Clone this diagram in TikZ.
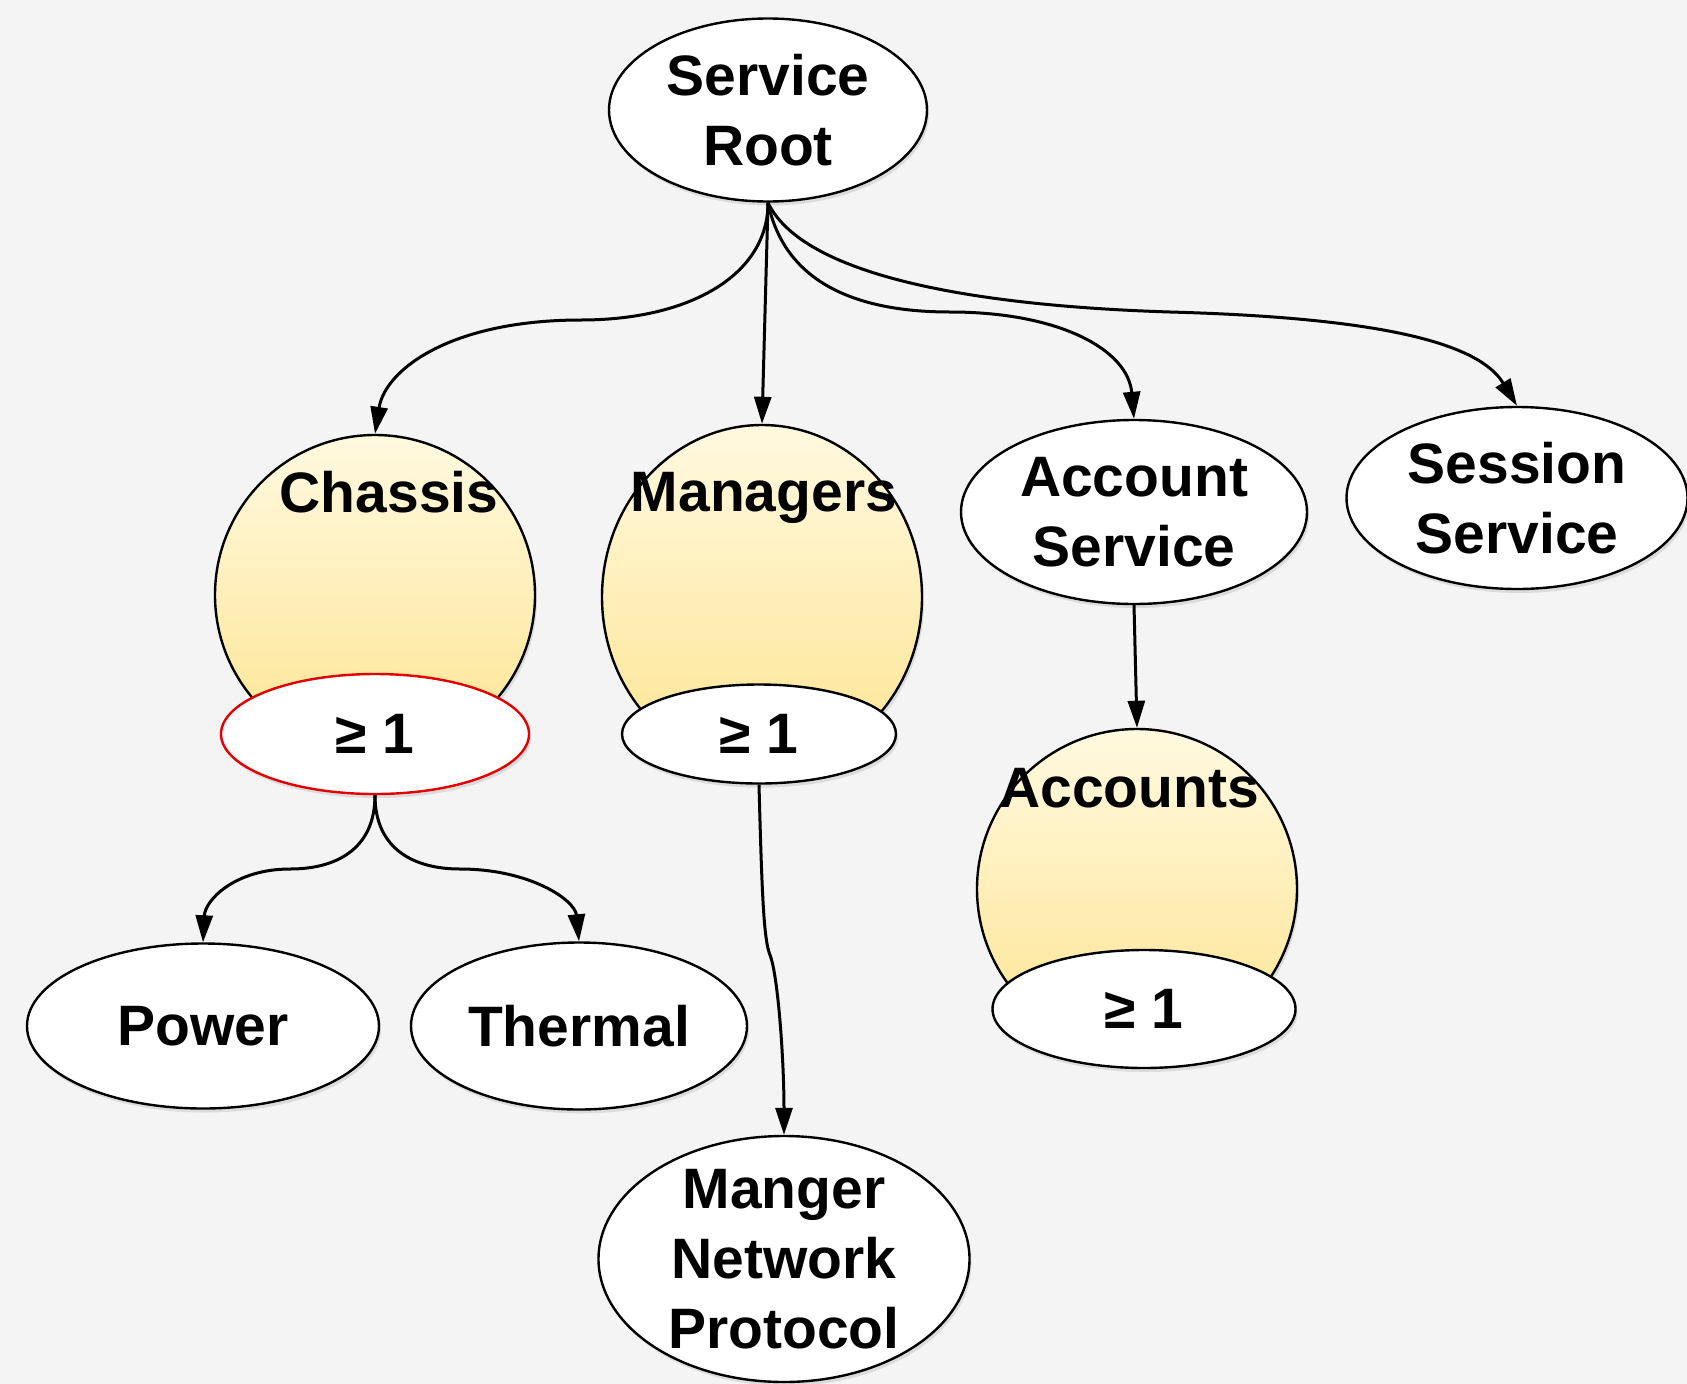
\documentclass[tikz,border=0pt]{standalone}
\usepackage{fontspec}
\setmainfont{Liberation Sans}
\usetikzlibrary{shapes.geometric,arrows.meta,shadows}
\definecolor{bgpaper}{RGB}{244,244,244}
\definecolor{creamtop}{RGB}{255,249,224}
\definecolor{creambot}{RGB}{254,229,146}
\definecolor{tagred}{RGB}{228,0,0}
\begin{document}
\begin{tikzpicture}[x=1pt,y=-1pt,
  txt/.style={font=\fontsize{57}{70}\selectfont\bfseries, align=center},
  softshadow/.style={drop shadow={shadow xshift=2pt, shadow yshift=-4pt, opacity=0.2}},
  oval/.style={ellipse, draw=black, line width=2.4pt, fill=white, inner sep=0pt, txt, softshadow},
  bubble/.style={ellipse, draw=black, line width=2.4pt, top color=creamtop, bottom color=creambot,
                 minimum width=320pt, minimum height=320pt, inner sep=0pt, softshadow},
  link/.style={line width=3pt, -{Triangle[length=27pt,width=17pt]}},
]
\useasboundingbox (0,0) rectangle (1687,1384);
\fill[bgpaper] (0,0) rectangle (1687,1384);

% top level
\node[oval, minimum width=318pt, minimum height=183pt] (root) at (768,110) {Service\\Root};

% collections
\node[bubble] (chassis) at (375,595) {};
\node[oval, draw=tagred, minimum width=308pt, minimum height=120pt] (chassismin) at (375,734) {≥ 1};
\node[txt, anchor=base] (chassislbl) at (389,512) {Chassis};

\node[bubble, minimum height=344pt] (managers) at (762,597) {};
\node[oval, minimum width=274pt, minimum height=99pt] (managersmin) at (759,734) {≥ 1};
\node[txt, anchor=base] (managerslbl) at (764,511) {Managers};

\node[oval, minimum width=346pt, minimum height=184pt] (acctsvc) at (1134,512) {Account\\Service};
\node[oval, minimum width=341pt, minimum height=182pt] (session) at (1517,498) {Session\\Service};

\node[bubble] (accounts) at (1137,889) {};
\node[oval, minimum width=303pt, minimum height=118pt] (accountsmin) at (1144,1009) {≥ 1};
\node[txt, anchor=base] (accountslbl) at (1129,807) {Accounts};

% leaves
\node[oval, minimum width=352pt, minimum height=165pt] (power) at (203,1026) {Power};
\node[oval, minimum width=336pt, minimum height=167pt] (thermal) at (579,1026) {Thermal};
\node[oval, inner sep=-5pt, minimum width=371pt, minimum height=246pt] (mnp) at (784,1259) {Manger\\Network\\Protocol};

% connectors
\draw[link] (root.south) .. controls (768,275) and (690,320) .. (581,320)
                         .. controls (450,320) and (385,370) .. (chassis.north);
\draw[link] (root.south) -- (managers.north);
\draw[link] (root.south) .. controls (785,285) and (860,312) .. (950,312)
                         .. controls (1060,312) and (1128,350) .. (acctsvc.north);
\draw[link] (root.south) .. controls (800,270) and (950,305) .. (1170,312)
                         .. controls (1390,318) and (1480,345) .. (session.north);
\draw[link] (acctsvc.south) -- (accounts.north);
\draw[link] (chassismin.south) .. controls (375,850) and (335,869) .. (290,869)
                               .. controls (235,869) and (205,900) .. (power.north);
\draw[link] (chassismin.south) .. controls (375,850) and (415,869) .. (460,869)
                               .. controls (530,869) and (575,900) .. (thermal.north);
\draw[link] (managersmin.south) .. controls (762,900) and (764,940) .. (770,955)
                                .. controls (778,975) and (784,1060) .. (mnp.north);
\end{tikzpicture}
\end{document}
